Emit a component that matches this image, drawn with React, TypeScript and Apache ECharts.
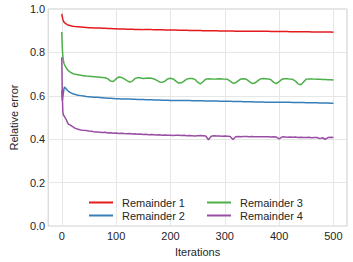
import React, { useEffect, useRef } from "react";
import * as echarts from "echarts";

const iterations = [
  0, 1, 2, 3, 4, 5, 6, 8, 10, 12, 15, 20,
  25, 30, 35, 40, 45, 50, 55, 60, 65, 70,
  75, 80, 85, 90, 95, 100, 105, 110, 115, 120,
  125, 130, 135, 140, 145, 150, 155, 160, 165, 170,
  175, 180, 185, 190, 195, 200, 205, 210, 215, 220,
  225, 230, 235, 240, 245, 250, 255, 260, 265, 270,
  275, 280, 285, 290, 295, 300, 305, 310, 315, 320,
  325, 330, 335, 340, 345, 350, 355, 360, 365, 370,
  375, 380, 385, 390, 395, 400, 405, 410, 415, 420,
  425, 430, 435, 440, 445, 450, 455, 460, 465, 470,
  475, 480, 485, 490, 495, 500,
];

const remainder1 = [
  0.978, 0.962, 0.952, 0.945, 0.94, 0.937, 0.935, 0.931, 0.928, 0.926, 0.924, 0.921,
  0.919, 0.918, 0.917, 0.916, 0.915, 0.914, 0.914, 0.913, 0.912, 0.912,
  0.911, 0.911, 0.91, 0.91, 0.909, 0.909, 0.908, 0.908, 0.908, 0.907,
  0.907, 0.907, 0.906, 0.906, 0.906, 0.905, 0.905, 0.905, 0.905, 0.904,
  0.904, 0.904, 0.904, 0.903, 0.903, 0.903, 0.903, 0.903, 0.902, 0.902,
  0.902, 0.902, 0.901, 0.901, 0.901, 0.901, 0.901, 0.9, 0.9, 0.9,
  0.9, 0.9, 0.9, 0.899, 0.899, 0.899, 0.899, 0.899, 0.899, 0.898,
  0.898, 0.898, 0.898, 0.898, 0.898, 0.897, 0.897, 0.897, 0.897, 0.897,
  0.897, 0.897, 0.896, 0.896, 0.896, 0.896, 0.896, 0.896, 0.896, 0.895,
  0.895, 0.895, 0.895, 0.895, 0.895, 0.895, 0.895, 0.894, 0.894, 0.894,
  0.894, 0.894, 0.894, 0.894, 0.894, 0.893,
];

const remainder2 = [
  0.625, 0.578, 0.595, 0.615, 0.632, 0.641, 0.638, 0.632, 0.627, 0.622, 0.616, 0.61,
  0.606, 0.603, 0.601, 0.599, 0.597, 0.596, 0.595, 0.594, 0.593, 0.592,
  0.591, 0.59, 0.589, 0.589, 0.588, 0.587, 0.587, 0.586, 0.586, 0.585,
  0.585, 0.584, 0.584, 0.583, 0.583, 0.583, 0.582, 0.582, 0.582, 0.581,
  0.581, 0.581, 0.58, 0.58, 0.58, 0.579, 0.579, 0.579, 0.579, 0.578,
  0.578, 0.578, 0.578, 0.577, 0.577, 0.577, 0.577, 0.577, 0.576, 0.576,
  0.576, 0.576, 0.576, 0.575, 0.575, 0.575, 0.575, 0.575, 0.574, 0.574,
  0.574, 0.574, 0.573, 0.573, 0.573, 0.573, 0.572, 0.572, 0.572, 0.572,
  0.571, 0.571, 0.571, 0.571, 0.571, 0.57, 0.57, 0.57, 0.57, 0.57,
  0.569, 0.569, 0.569, 0.569, 0.569, 0.568, 0.568, 0.568, 0.568, 0.568,
  0.567, 0.567, 0.567, 0.567, 0.566, 0.566,
];

const remainder3 = [
  0.894, 0.82, 0.782, 0.762, 0.75, 0.744, 0.739, 0.73, 0.722, 0.716, 0.71, 0.703,
  0.699, 0.697, 0.695, 0.693, 0.691, 0.69, 0.689, 0.688, 0.687, 0.686,
  0.685, 0.683, 0.678, 0.668, 0.666, 0.678, 0.687, 0.685, 0.678, 0.67,
  0.663, 0.668, 0.68, 0.684, 0.682, 0.68, 0.681, 0.682, 0.681, 0.678,
  0.671, 0.664, 0.662, 0.668, 0.678, 0.681, 0.678, 0.668, 0.659, 0.66,
  0.668, 0.677, 0.68, 0.68, 0.676, 0.663, 0.655, 0.665, 0.677, 0.679,
  0.678, 0.677, 0.678, 0.679, 0.678, 0.677, 0.676, 0.668, 0.658, 0.66,
  0.67, 0.678, 0.679, 0.676, 0.667, 0.657, 0.659, 0.668, 0.677, 0.68,
  0.679, 0.678, 0.674, 0.662, 0.656, 0.665, 0.676, 0.679, 0.679, 0.677,
  0.676, 0.668, 0.655, 0.651, 0.664, 0.677, 0.678, 0.678, 0.677, 0.676,
  0.676, 0.675, 0.675, 0.674, 0.674, 0.673,
];

const remainder4 = [
  0.778, 0.6, 0.525, 0.512, 0.51, 0.505, 0.5, 0.492, 0.48, 0.47, 0.466, 0.458,
  0.45, 0.446, 0.443, 0.441, 0.44, 0.438, 0.437, 0.434, 0.433, 0.432,
  0.431, 0.432, 0.429, 0.43, 0.428, 0.429, 0.427, 0.428, 0.426, 0.425,
  0.426, 0.424, 0.425, 0.423, 0.424, 0.422, 0.423, 0.421, 0.422, 0.421,
  0.42, 0.421, 0.419, 0.42, 0.418, 0.419, 0.417, 0.419, 0.418, 0.417,
  0.418, 0.416, 0.417, 0.416, 0.415, 0.416, 0.417, 0.416, 0.415, 0.398,
  0.414, 0.416, 0.415, 0.415, 0.414, 0.415, 0.414, 0.413, 0.399, 0.412,
  0.413, 0.412, 0.413, 0.413, 0.412, 0.413, 0.411, 0.412, 0.411, 0.412,
  0.411, 0.412, 0.41, 0.411, 0.41, 0.402, 0.41, 0.411, 0.409, 0.41,
  0.409, 0.41, 0.408, 0.409, 0.408, 0.408, 0.409, 0.407, 0.408, 0.408,
  0.403, 0.407, 0.4, 0.408, 0.409, 0.408,
];

const xTicks = [0, 100, 200, 300, 400, 500];
const seriesNames = ["Remainder 1", "Remainder 2", "Remainder 3", "Remainder 4"];
const colors = ["#e41a1c", "#377eb8", "#4daf4a", "#984ea3"];

const FONT = "Liberation Sans, Arial, sans-serif";
const TEXT = "#262626";

export default function App() {
  const ref = useRef<HTMLDivElement>(null);
  useEffect(() => {
    if (!ref.current) return;
    const chart = echarts.init(ref.current, undefined, { renderer: "svg" });
    const all = [remainder1, remainder2, remainder3, remainder4];
    const legendBase = {
      orient: "vertical",
      top: 192,
      itemWidth: 24,
      itemHeight: 2,
      itemGap: 2,
      icon: "rect",
      textStyle: { fontFamily: FONT, fontSize: 11, color: TEXT, padding: [0, 0, 0, 4] },
    };
    chart.setOption({
      animation: false,
      backgroundColor: "#ffffff",
      color: colors,
      textStyle: { fontFamily: FONT },
      grid: {
        left: 37,
        right: 6,
        top: 9,
        bottom: 32,
        show: true,
        borderColor: "#cccccc",
        borderWidth: 1,
        backgroundColor: "transparent",
      },
      legend: [
        { ...legendBase, left: 84, data: [seriesNames[0], seriesNames[1]] },
        { ...legendBase, left: 202, data: [seriesNames[2], seriesNames[3]] },
      ],
      xAxis: {
        type: "value",
        min: -25,
        max: 525,
        name: "Iterations",
        nameLocation: "middle",
        nameGap: 14,
        nameTextStyle: { fontFamily: FONT, fontSize: 11, color: TEXT },
        axisLine: { show: false },
        axisTick: { show: false, customValues: xTicks },
        axisLabel: {
          customValues: xTicks,
          fontFamily: FONT,
          fontSize: 11,
          color: TEXT,
          margin: 4,
        },
        splitLine: { show: true, lineStyle: { color: "#e6e6e6", width: 1 } },
      },
      yAxis: {
        type: "value",
        min: 0,
        max: 1,
        interval: 0.2,
        name: "Relative error",
        nameLocation: "middle",
        nameGap: 29,
        nameTextStyle: { fontFamily: FONT, fontSize: 11, color: TEXT },
        axisLine: { show: false },
        axisTick: { show: false },
        axisLabel: {
          fontFamily: FONT,
          fontSize: 11,
          color: TEXT,
          margin: 3,
          formatter: (v: number) => v.toFixed(1),
        },
        splitLine: { show: true, lineStyle: { color: "#e6e6e6", width: 1 } },
      },
      series: seriesNames.map((name, i) => ({
        name,
        type: "line",
        symbol: "none",
        showSymbol: false,
        lineStyle: { width: 1.5, color: colors[i] },
        itemStyle: { color: colors[i] },
        data: iterations.map((it, k) => [it, all[i][k]]),
      })),
    });
    return () => chart.dispose();
  }, []);
  return <div ref={ref} style={{ width: 353, height: 262, position: "absolute", left: 0, top: 0 }} />;
}
